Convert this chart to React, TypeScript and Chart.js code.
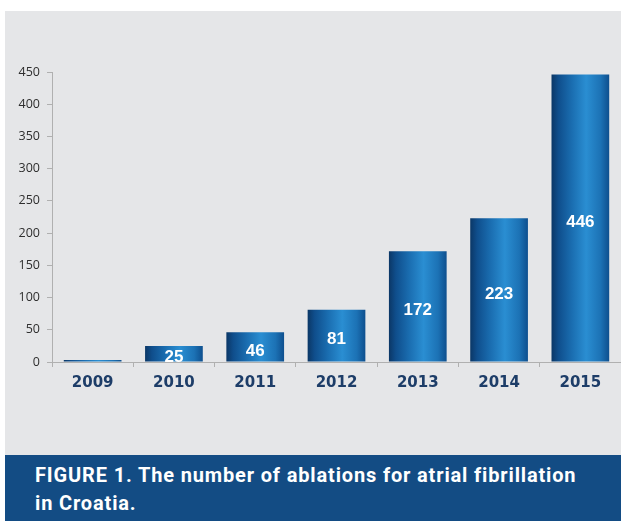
import React, { useEffect, useRef } from "react";
import { Chart, registerables } from "chart.js";

Chart.register(...registerables);

const years = ["2009", "2010", "2011", "2012", "2013", "2014", "2015"];
const ablations = [3, 25, 46, 81, 172, 223, 446];
const yTicks = [0, 50, 100, 150, 200, 250, 300, 350, 400, 450];
const labelValues = [null, 25, 46, 81, 172, 223, 446];
const caption = ["FIGURE 1. The number of ablations for atrial fibrillation", "in Croatia."];

const BAR_FRACTION = 0.71;

function barGradient(ctx: any) {
  const chart = ctx.chart;
  const xs = chart.scales && chart.scales.x;
  if (!xs || ctx.dataIndex === undefined) return "#1a6fb0";
  const cx = xs.getPixelForValue(ctx.dataIndex);
  const catW = xs.width / years.length;
  const w = catW * BAR_FRACTION;
  const x0 = cx - w / 2;
  if (!isFinite(x0) || !isFinite(w) || w <= 0) return "#1a6fb0";
  const g = chart.ctx.createLinearGradient(x0, 0, x0 + w, 0);
  g.addColorStop(0, "#0b3766");
  g.addColorStop(0.12, "#0f4e8c");
  g.addColorStop(0.35, "#1a6db0");
  g.addColorStop(0.6, "#2a8ed2");
  g.addColorStop(0.85, "#1c72b5");
  g.addColorStop(1, "#0e4f8e");
  return g;
}

const valueLabels = {
  id: "valueLabels",
  afterDatasetsDraw(chart: any) {
    const meta = chart.getDatasetMeta(0);
    const c = chart.ctx;
    c.save();
    c.fillStyle = "#ffffff";
    c.font = "bold 17px 'Liberation Sans', Arial, sans-serif";
    c.textAlign = "center";
    c.textBaseline = "middle";
    meta.data.forEach((el: any, i: number) => {
      const v = labelValues[i];
      if (v === null) return;
      const y = (el.y + el.base) / 2 + 4;
      c.fillText(String(v), el.x, y);
    });
    c.restore();
  },
};

export default function App() {
  const ref = useRef<HTMLCanvasElement | null>(null);
  useEffect(() => {
    if (!ref.current) return;
    const chart = new Chart(ref.current, {
      type: "bar",
      data: {
        labels: years,
        datasets: [
          {
            data: ablations,
            backgroundColor: barGradient as any,
            borderWidth: 0,
            barPercentage: BAR_FRACTION,
            categoryPercentage: 1,
          },
        ],
      },
      options: {
        animation: false,
        responsive: false,
        maintainAspectRatio: false,
        devicePixelRatio: 1,
        layout: { padding: { left: 0, right: 0, top: 72, bottom: 53 } },
        plugins: { legend: { display: false }, tooltip: { enabled: false }, title: { display: false } },
        scales: {
          x: {
            grid: { display: true, drawOnChartArea: false, offset: true, tickLength: 5, color: "#b0b0b0" },
            border: { color: "#b0b0b0" },
            ticks: {
              color: "#1d3d68",
              font: { family: "'DejaVu Sans', Verdana, sans-serif", size: 15, weight: "bold" },
              padding: 7,
            },
            afterFit: (s: any) => { s.height = 40; },
          },
          y: {
            min: 0,
            max: 450,
            afterBuildTicks: (s: any) => { s.ticks = yTicks.map((v) => ({ value: v })); },
            grid: { display: true, drawOnChartArea: false, tickLength: 5, color: "#b0b0b0" },
            border: { color: "#b0b0b0" },
            ticks: {
              color: "#2e2e2e",
              font: { family: "'Open Sans', 'Liberation Sans', sans-serif", size: 12.5 },
              padding: 7,
            },
            afterFit: (s: any) => { s.width = 52; },
          },
        },
      },
      plugins: [valueLabels],
    });
    return () => chart.destroy();
  }, []);

  return (
    <div style={{ position: "absolute", left: 0, top: 0, width: 621, height: 521, background: "#ffffff", overflow: "hidden" }}>
      <div style={{ position: "absolute", left: 5, top: 11, width: 616, height: 444, background: "#e5e6e8" }} />
      <canvas ref={ref} width={621} height={455} style={{ position: "absolute", left: 0, top: 0, width: 621, height: 455 }} />
      <div
        style={{
          position: "absolute",
          left: 5,
          top: 455,
          width: 616,
          height: 66,
          background: "#134c84",
          color: "#ffffff",
          fontFamily: "Roboto, 'Noto Sans', sans-serif",
          fontWeight: 700,
          fontSize: 20,
          lineHeight: "28px",
          letterSpacing: "0.85px",
          boxSizing: "border-box",
          padding: "6px 0 0 30px",
          whiteSpace: "nowrap",
        }}
      >
        <div>{caption[0]}</div>
        <div>{caption[1]}</div>
      </div>
    </div>
  );
}
